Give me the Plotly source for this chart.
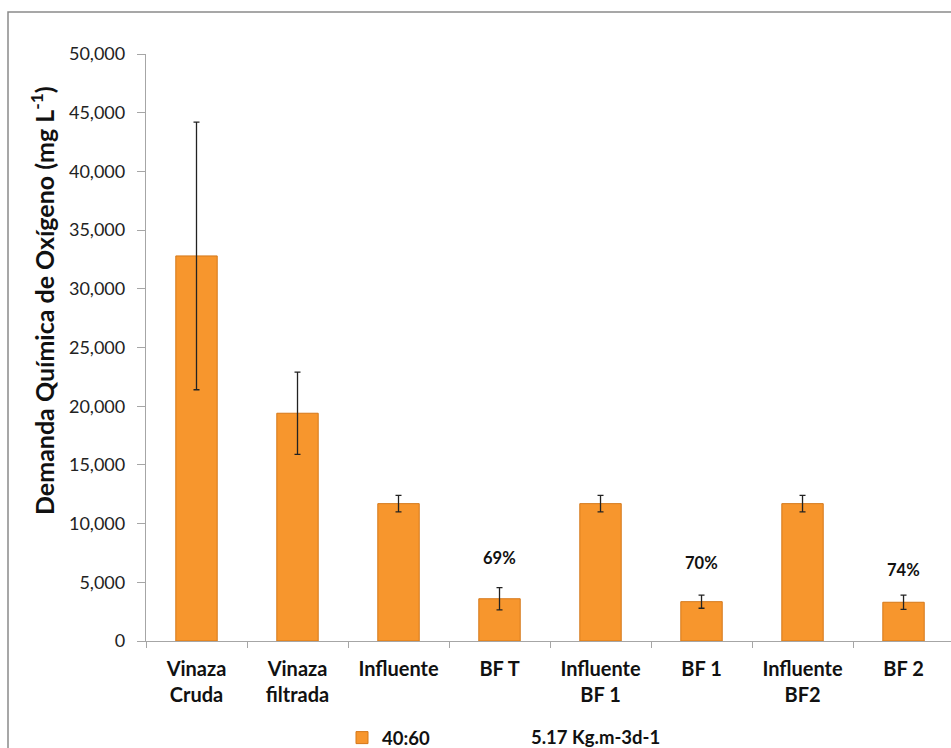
import plotly.graph_objects as go

categories = ["Vinaza<br>Cruda", "Vinaza<br>filtrada", "Influente", "BF T",
              "Influente<br>BF 1", "BF 1", "Influente<br>BF2", "BF 2"]
dqo_values = [32800, 19400, 11700, 3600, 11700, 3350, 11700, 3300]
dqo_errors = [11400, 3500, 700, 950, 700, 560, 700, 600]
removal_labels = ["", "", "", "69%", "", "70%", "", "74%"]
removal_label_y = [None, None, None, 7050, None, 6650, None, 6050]
y_ticks = [0, 5000, 10000, 15000, 20000, 25000, 30000, 35000, 40000, 45000, 50000]
series_name = "40:60"
load_label = "5.17 Kg.m-3d-1"
y_title = "Demanda Química de Oxígeno (mg L<sup>-1</sup>)"

FONT = "Lato"
L, T, PW, PH = 146, 54, 805, 587

fig = go.Figure()
fig.add_trace(go.Bar(
    x=categories, y=dqo_values, name=series_name,
    marker=dict(color="#F7962D", line=dict(color="#D57819", width=1)),
    error_y=dict(type="data", array=dqo_errors, visible=True,
                 color="#222222", thickness=1.3, width=3),
))

for c, lab, ly in zip(categories, removal_labels, removal_label_y):
    if lab:
        fig.add_annotation(x=c, y=ly, text="<b>%s</b>" % lab, showarrow=False,
                           font=dict(family=FONT, size=16.5, color="#111"))

# y-axis title (placed like the original, above plot centre)
fig.add_annotation(xref="paper", yref="paper", x=(42 - L) / PW, y=(T + PH - 301) / PH,
                   text="<b>%s</b>" % y_title, textangle=-90, showarrow=False,
                   xanchor="center", yanchor="middle",
                   font=dict(family=FONT, size=25, color="#111"))

# second legend text
fig.add_annotation(xref="paper", yref="paper", x=(529 - L) / PW, y=(T + PH - 737) / PH,
                   text="<b>%s</b>" % load_label, showarrow=False,
                   xanchor="left", yanchor="middle",
                   font=dict(family=FONT, size=18.5, color="#111"))

fig.add_shape(type="rect", xref="paper", yref="paper",
              x0=(8 - L) / PW, x1=1.2, y0=-0.3, y1=1 + (T - 12) / PH,
              line=dict(color="#8a8a8a", width=1.5), fillcolor="rgba(0,0,0,0)",
              layer="below")

fig.update_layout(
    width=951, height=748,
    margin=dict(l=L, r=951 - L - PW, t=T, b=748 - T - PH, autoexpand=False),
    paper_bgcolor="white", plot_bgcolor="white",
    bargap=0.59,
    font=dict(family=FONT, size=17, color="#111"),
    showlegend=True,
    legend=dict(orientation="h", x=(342 - L) / PW, xanchor="left",
                y=-0.133, yanchor="top",
                font=dict(family=FONT, size=18.5, color="#111", weight="bold"),
                bgcolor="rgba(0,0,0,0)"),
    xaxis=dict(range=[-0.5, 7.47], showline=True, linecolor="#a6a6a6", linewidth=1.3,
               ticks="outside", tickson="boundaries", ticklen=6, tickcolor="#a6a6a6",
               ticklabelstandoff=10, automargin=False,
               tickfont=dict(family=FONT, size=20, color="#111", weight="bold"),
               showgrid=False, zeroline=False, fixedrange=True),
    yaxis=dict(range=[0, 50000], tickvals=y_ticks, tickformat=",d",
               showline=True, linecolor="#a6a6a6", linewidth=1.3,
               ticks="outside", ticklen=8, tickcolor="#a6a6a6",
               ticklabelstandoff=8, automargin=False,
               tickfont=dict(family=FONT, size=18, color="#222"),
               showgrid=False, zeroline=False, fixedrange=True),
)

fig.write_html("out.html", config={"displayModeBar": False},
               post_script="document.body.style.margin='0';")
